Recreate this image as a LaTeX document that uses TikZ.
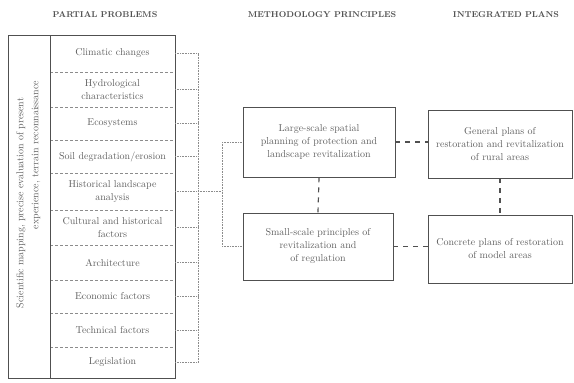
\documentclass[tikz,border=0pt]{standalone}
\usepackage{xcolor}
\usetikzlibrary{positioning}
\definecolor{mygray}{RGB}{80,80,80}
\definecolor{mytext}{RGB}{95,95,95}
\definecolor{mylight}{RGB}{140,140,140}

\tikzset{
  rowbox/.style={minimum width=125pt, inner sep=1pt, align=center, text=mytext},
  planbox/.style={draw=mygray, line width=0.9pt, align=center, text=mytext, inner sep=2pt},
  header/.style={font=\fontsize{8.5}{10}\selectfont\bfseries, text=mygray},
  link/.style={mygray, line width=1.2pt, dash pattern=on 5pt off 5pt},
  feed/.style={mylight, densely dotted, line width=0.6pt}
}

\begin{document}
\begin{tikzpicture}[x=1pt, y=-1pt, font=\fontsize{10}{13}\selectfont]
  \useasboundingbox (0,0) rectangle (574,383);
  \def\colL{8}
  \def\colM{50}
  \def\colR{175}

%headers:
  \node[header] (partial) at (105,15) {PARTIAL PROBLEMS};
  \node[header] (method) at (322,15) {METHODOLOGY PRINCIPLES};
  \node[header] (integr) at (506,15) {INTEGRATED PLANS};

%partial problems:
  \foreach \name/\top/\bot/\txt in {
      clim/35/72/{Climatic changes},
      hydro/72/107/{Hydrological\\characteristics},
      eco/107/140/{Ecosystems},
      soil/140/173/{Soil degradation/erosion},
      hist/173/210/{Historical landscape\\analysis},
      cult/210/245/{Cultural and historical\\factors},
      arch/245/280/{Architecture},
      econ/280/313/{Economic factors},
      tech/313/347/{Technical factors},
      legis/347/378/{Legislation}}{
    \pgfmathsetmacro\h{\bot-\top}
    \node[rowbox, minimum height=\h pt] (\name) at (112.5,{(\top+\bot)/2}) {\txt};
    \draw[mylight, densely dashed] (\colM,\bot) -- (\colR,\bot);
  }
  \draw[mygray, line width=0.8pt] (\colL,35) rectangle (\colR,378);
  \draw[mygray, line width=0.8pt] (\colM,35) -- (\colM,378);

  \node[rotate=90, text=mytext] (mapping) at (21,203) {Scientific mapping, precise evaluation of present};
  \node[rotate=90, text=mytext] (terrain) at (36,155) {experience, terrain reconnaissance};

%feeding lines:
  \coordinate (bus) at (198,0);
  \coordinate (split) at (222,0);
  \foreach \name in {clim,hydro,eco,soil,hist,cult,arch,econ,tech,legis}
    \draw[feed] (\name.east) -- (\name.east -| bus);
  \draw[feed] (clim.east -| bus) -- (legis.east -| bus);

%methodology:
  \node[planbox, minimum width=152pt, minimum height=70pt] (large) at (319,142)
    {Large-scale spatial\\planning of protection and\\landscape revitalization};
  \node[planbox, minimum width=150pt, minimum height=67pt] (small) at (318,246.5)
    {Small-scale principles of\\revitalization and\\of regulation};

  \draw[feed] (hist.east -| bus) -- (hist.east -| split);
  \draw[feed] (large.west -| split) -- (small.west -| split);
  \draw[feed] (large.west -| split) -- (large.west);
  \draw[feed] (small.west -| split) -- (small.west);

%integrated plans:
  \node[planbox, minimum width=144pt, minimum height=68pt] (general) at (500,144)
    {General plans of\\restoration and revitalization\\of rural areas};
  \node[planbox, minimum width=144pt, minimum height=68pt] (concrete) at (500,249)
    {Concrete plans of restoration\\of model areas};

  \draw[link] (large.east) -- (large.east -| general.west);
  \draw[link] (small.east) -- (small.east -| concrete.west);
  \draw[link] (large.south) -- (small.north);
  \draw[link] (general.south) -- (concrete.north);

\end{tikzpicture}
\end{document}
